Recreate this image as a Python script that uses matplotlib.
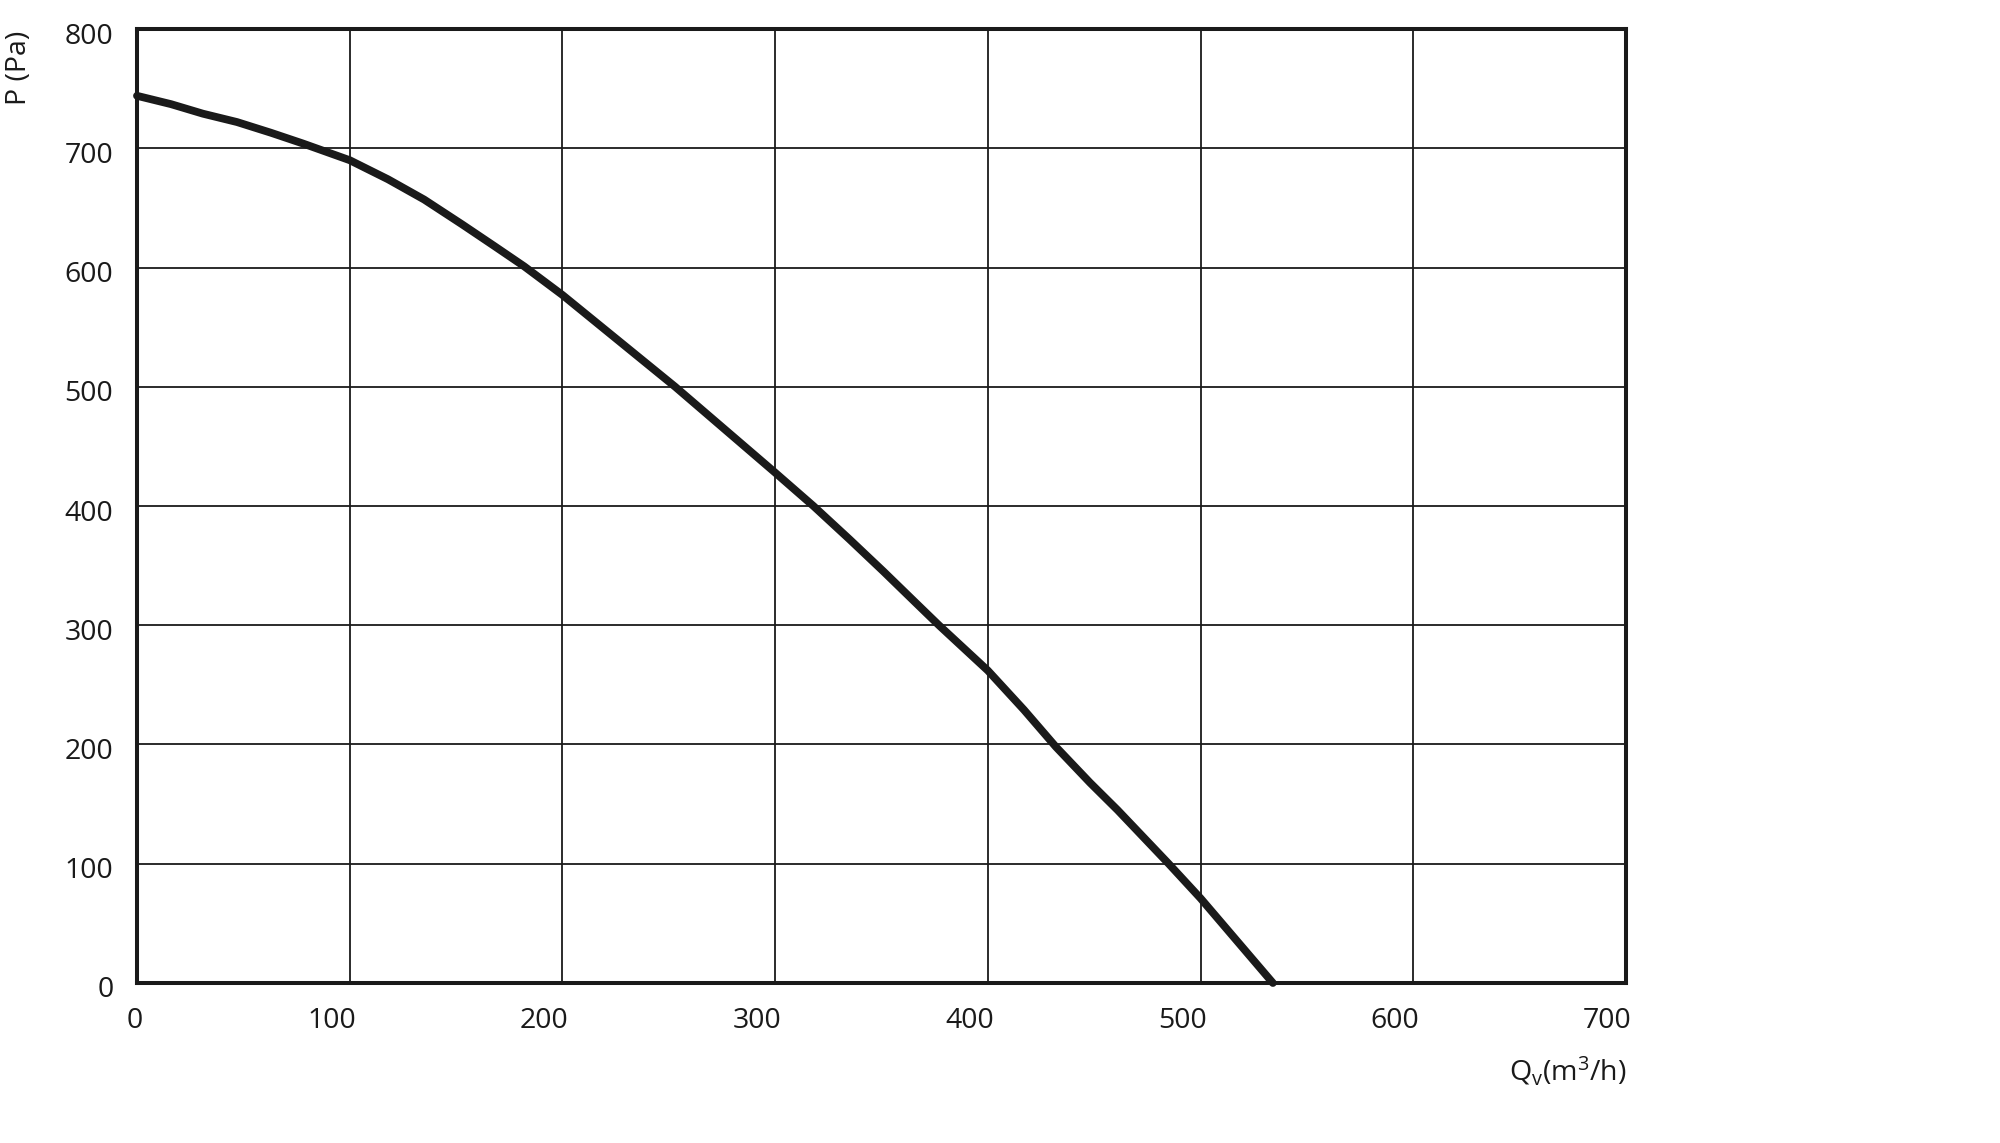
import matplotlib.pyplot as plt
from matplotlib.transforms import ScaledTranslation

# fan curve
q_flow = [0, 16, 31, 47, 63, 78, 100, 118, 135, 153, 168, 182, 200, 253, 300, 318,
          335, 351, 366, 377, 400, 417, 432, 448, 461, 485, 500, 534]
p_pres = [744, 737, 729, 722, 713, 704, 690, 674, 657, 636, 618, 601, 577, 500, 428, 400,
          372, 345, 319, 300, 262, 229, 198, 168, 145, 100, 71, 0]

x_ticks = [0, 100, 200, 300, 400, 500, 600, 700]
y_ticks = [0, 100, 200, 300, 400, 500, 600, 700, 800]

plt.rcParams['font.family'] = ['Open Sans', 'DejaVu Sans']
plt.rcParams['mathtext.fontset'] = 'custom'
plt.rcParams['mathtext.rm'] = 'Open Sans'
plt.rcParams['mathtext.it'] = 'Open Sans'

ink = '#1a1a1a'

fig = plt.figure(figsize=(20, 11.43), dpi=100)
ax = fig.add_axes([0.0685, 0.14, 0.7445, 0.8346])

ax.plot(q_flow, p_pres, color=ink, lw=5.6, solid_capstyle='round',
        solid_joinstyle='round', zorder=3, clip_on=False)

ax.set_xlim(0, 700)
ax.set_ylim(0, 800)
ax.set_xticks(x_ticks)
ax.set_yticks(y_ticks)
ax.grid(True, color=ink, lw=1.3)
ax.tick_params(length=0, labelsize=20.5, colors=ink)
ax.tick_params(axis='y', pad=17)
ax.tick_params(axis='x', pad=17)
for s in ax.spines.values():
    s.set_linewidth(2.9)
    s.set_color(ink)

# x labels in the original end just right of their grid lines
shift_x = ScaledTranslation(0.06, 0, fig.dpi_scale_trans)
for lab in ax.get_xticklabels():
    lab.set_horizontalalignment('right')
    lab.set_transform(lab.get_transform() + shift_x)
shift_y = ScaledTranslation(0, -0.04, fig.dpi_scale_trans)
for lab in ax.get_yticklabels():
    lab.set_transform(lab.get_transform() + shift_y)

fig.text(0.0093, 0.941, 'P (Pa)', rotation=90, fontsize=20.5, color=ink,
         ha='center', va='center')
fig.text(0.784, 0.063, r'Q$_\mathrm{v}$(m$^\mathrm{3}$/h)', fontsize=20.5, color=ink,
         ha='center', va='center')

fig.savefig('out.png', dpi=100)
